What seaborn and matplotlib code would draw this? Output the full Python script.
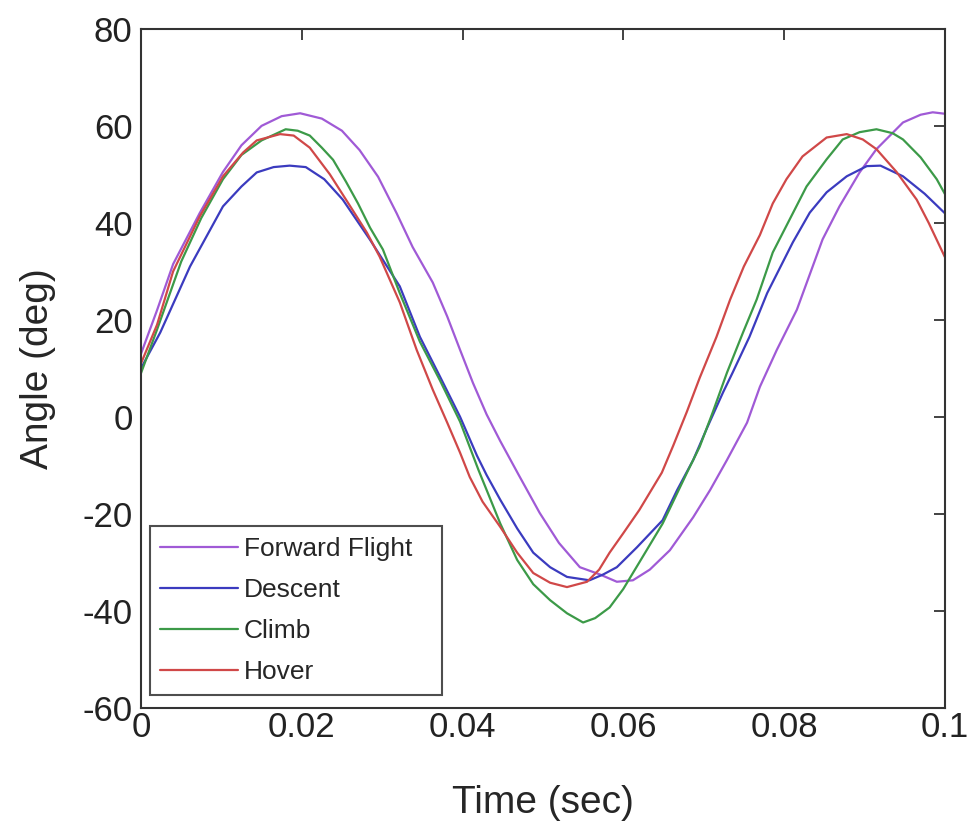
import numpy as np
import pandas as pd
import matplotlib
matplotlib.use("Agg")
import matplotlib.pyplot as plt
import seaborn as sns

# ---- data (time in s, angle in deg) ----
ff_t = [0, 0.002, 0.004, 0.0073, 0.0102, 0.0125, 0.015, 0.0175, 0.0198, 0.0225,
        0.025, 0.0272, 0.0295, 0.0318, 0.0338, 0.0363, 0.0381, 0.0397, 0.0413,
        0.043, 0.0447, 0.047, 0.0496, 0.052, 0.0546, 0.0571, 0.0592, 0.0612,
        0.0633, 0.0658, 0.0687, 0.0708, 0.0729, 0.0754, 0.077, 0.0791, 0.0816,
        0.0848, 0.0869, 0.0894, 0.0915, 0.0948, 0.097, 0.0985, 0.1]
ff_v = [13, 22, 31.5, 42, 50.5, 56, 60, 62, 62.6, 61.5,
        59, 55, 49.5, 42, 35, 27.7, 20.7, 13.8, 7,
        0.5, -5, -12, -19.8, -26, -31, -32.5, -34, -33.7,
        -31.5, -27.5, -20.7, -15.1, -8.9, -1.2, 6.2, 13.8, 22.1,
        36.6, 43.4, 50.4, 55.2, 60.7, 62.3, 62.8, 62.5]

de_t = [0, 0.0024, 0.0061, 0.0102, 0.0125, 0.0144, 0.0165, 0.0185, 0.0205, 0.0228,
        0.0251, 0.0285, 0.0322, 0.0347, 0.0372, 0.0397, 0.0418, 0.043, 0.0447,
        0.0468, 0.0488, 0.0509, 0.053, 0.0558, 0.0575, 0.0592, 0.0617, 0.0649,
        0.0667, 0.0687, 0.0705, 0.0724, 0.0736, 0.0757, 0.0779, 0.0811, 0.0832,
        0.0853, 0.0878, 0.0903, 0.092, 0.0948, 0.0975, 0.1]
de_v = [10, 17.4, 31, 43.4, 47.5, 50.4, 51.5, 51.8, 51.5, 49,
        44.8, 36.5, 26.9, 16.5, 8.3, 0, -8, -12, -17.1,
        -23, -28, -31, -33, -33.7, -32.5, -31, -26.9, -21.3,
        -15.1, -8.9, -2, 5, 9.1, 16.5, 25.5, 36, 42.1,
        46.3, 49.6, 51.7, 51.8, 49.6, 46, 42]

cl_t = [0, 0.002, 0.005, 0.0075, 0.0102, 0.0125, 0.015, 0.018, 0.0195, 0.021,
        0.0225, 0.0239, 0.0255, 0.027, 0.0285, 0.0301, 0.0322, 0.0347, 0.0372,
        0.0397, 0.042, 0.0447, 0.0468, 0.0488, 0.0509, 0.053, 0.055, 0.0565,
        0.0583, 0.06, 0.062, 0.0649, 0.0662, 0.0679, 0.0695, 0.0711, 0.0729,
        0.0749, 0.0766, 0.0786, 0.0807, 0.0828, 0.0853, 0.0873, 0.0894, 0.0915,
        0.0935, 0.0948, 0.097, 0.099, 0.1]
cl_v = [9, 18, 32, 41, 49, 54, 57, 59.3, 59, 58,
        55.5, 53, 48.5, 44, 39, 34.5, 25.5, 15.5, 7.5,
        -1, -11, -22, -29.5, -34.5, -37.8, -40.5, -42.4, -41.5,
        -39.3, -35.5, -30, -22, -17.5, -11.6, -6.2, 0.8, 9.1,
        17.4, 24.2, 33.9, 40.7, 47.5, 53.1, 57.2, 58.7, 59.3,
        58.5, 57.2, 53.5, 49, 46]

ho_t = [0, 0.002, 0.004, 0.0073, 0.0102, 0.0127, 0.0144, 0.0173, 0.019, 0.021,
        0.0235, 0.026, 0.0281, 0.0297, 0.0322, 0.0343, 0.0363, 0.0381, 0.0397,
        0.0409, 0.0425, 0.0447, 0.0468, 0.0488, 0.0509, 0.053, 0.0555, 0.057,
        0.0583, 0.06, 0.062, 0.0648, 0.0662, 0.0679, 0.0695, 0.0716, 0.0733,
        0.075, 0.077, 0.0786, 0.0803, 0.0823, 0.0853, 0.0878, 0.0898, 0.0915,
        0.094, 0.0965, 0.098, 0.1]
ho_v = [11, 19, 30, 41.3, 49.6, 54.5, 57, 58.3, 58, 55.5,
        50, 43.5, 38, 33, 23.6, 13.8, 5.6, -1.2, -7.4,
        -12.4, -17.5, -22.7, -28, -32.2, -34.2, -35.1, -34, -31.5,
        -28, -24, -19.2, -11.5, -6, 1, 8, 16.5, 24.2,
        31, 37.5, 44, 49, 53.7, 57.6, 58.3, 57.2, 55.2,
        50.5, 44.8, 40, 33]

labels = ["Forward Flight", "Descent", "Climb", "Hover"]
colors = ["#a05ad6", "#3b3bbf", "#3c9a48", "#d04848"]

frames = []
for lbl, t, v in zip(labels, [ff_t, de_t, cl_t, ho_t], [ff_v, de_v, cl_v, ho_v]):
    frames.append(pd.DataFrame({"time": t, "angle": v, "mode": lbl}))
df = pd.concat(frames, ignore_index=True)

sns.set_style("white")
plt.rcParams["font.family"] = ["Liberation Sans", "DejaVu Sans"]
plt.rcParams["axes.unicode_minus"] = False

fig = plt.figure(figsize=(9.75, 8.25), dpi=100)
ax = fig.add_axes([0.1446, 0.142, 0.8244, 0.823])

sns.lineplot(data=df, x="time", y="angle", hue="mode", hue_order=labels,
             palette=colors, estimator=None, sort=True, lw=1.6, ax=ax)

ax.set_xlim(0, 0.1)
ax.set_ylim(-60, 80)
ax.set_xticks([0, 0.02, 0.04, 0.06, 0.08, 0.1])
ax.set_xticklabels(["0", "0.02", "0.04", "0.06", "0.08", "0.1"])
ax.set_yticks(range(-60, 81, 20))
ax.tick_params(direction="in", length=8, width=1.2, labelsize=25,
               top=True, right=True, colors="#222222")
ax.tick_params(axis="x", pad=2)
ax.tick_params(axis="y", pad=6)
for s in ax.spines.values():
    s.set_color("#333333")
    s.set_linewidth(1.5)
ax.set_xlabel("Time (sec)", fontsize=28, labelpad=30)
ax.set_ylabel("Angle (deg)", fontsize=28, labelpad=19)

leg = ax.legend(loc="lower left", bbox_to_anchor=(0.011, 0.019, 0.364, 0.25),
                mode="expand", borderaxespad=0,
                fontsize=19, frameon=True, fancybox=False, handlelength=2.95,
                labelspacing=0.65, borderpad=0.4, handletextpad=0.2)
leg.get_frame().set_edgecolor("#222222")
leg.get_frame().set_linewidth(1.5)

fig.savefig("out.png", dpi=100)
